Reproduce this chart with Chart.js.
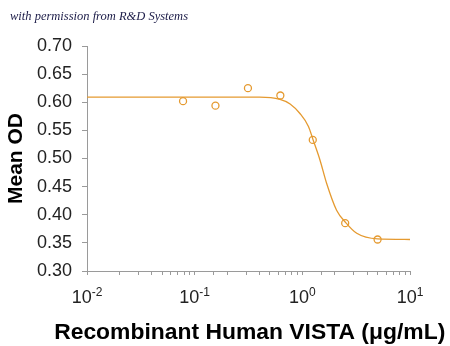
<!DOCTYPE html>
<html>
<head>
<meta charset="utf-8">
<script src="https://cdn.jsdelivr.net/npm/chart.js@4/dist/chart.umd.min.js"></script>
<style>
  body { margin: 0; background: #fff; }
</style>
</head>
<body>
<canvas id="chart" width="450" height="346"></canvas>
<script>
// measured points (2-fold dilution series)
var concentrations = [0.078, 0.156, 0.3125, 0.625, 1.25, 2.5, 5];
var meanOD = [0.602, 0.594, 0.625, 0.612, 0.533, 0.385, 0.356];

// fitted curve
var fitX = [0.01, 0.1, 0.4, 0.62, 0.77, 0.95, 1.14, 1.26, 1.46, 1.68, 2.08, 2.53, 3.2, 5.0, 10];
var fitY = [0.609, 0.609, 0.609, 0.605, 0.597, 0.580, 0.557, 0.533, 0.497, 0.456, 0.408, 0.386, 0.367, 0.357, 0.356];

// x tick labels: value, base, exponent
var xTickValues = [0.01, 0.1, 1, 10];
var xTickExp = ['-2', '-1', '0', '1'];
var xTitle = 'Recombinant Human VISTA (μg/mL)';

var orange = '#E59A30';
var axisGrey = '#9a9a9a';

var pts = [];
for (var i = 0; i < concentrations.length; i++) {
  pts.push({ x: concentrations[i], y: meanOD[i] });
}
var fit = [];
for (var j = 0; j < fitX.length; j++) {
  fit.push({ x: fitX[j], y: fitY[j] });
}

var extras = {
  id: 'extras',
  afterDraw: function (chart) {
    var c = chart.ctx;
    var xs = chart.scales.x;
    c.save();
    // caption
    c.font = 'italic 12.5px "Liberation Serif"';
    c.fillStyle = '#1c1c48';
    c.textBaseline = 'alphabetic';
    c.textAlign = 'left';
    c.fillText('with permission from R&D Systems', 10, 20);

    // power-of-ten tick labels with superscripts
    c.fillStyle = '#222';
    for (var k = 0; k < xTickValues.length; k++) {
      var px = xs.getPixelForValue(xTickValues[k]);
      c.font = '18px "Liberation Sans"';
      var wb = c.measureText('10').width;
      c.font = '12px "Liberation Sans"';
      var we = c.measureText(xTickExp[k]).width;
      var x0 = px - (wb + we) / 2;
      c.font = '18px "Liberation Sans"';
      c.fillText('10', x0, 302.5);
      c.font = '12px "Liberation Sans"';
      c.fillText(xTickExp[k], x0 + wb, 296);
    }

    // x axis title
    c.font = 'bold 22px "Liberation Sans"';
    c.fillStyle = '#000';
    c.textAlign = 'center';
    c.translate(249.7, 339);
    c.scale(1.04, 1);
    c.fillText(xTitle, 0, 0);
    c.restore();
  }
};

var config = {
  type: 'scatter',
  data: {
    datasets: [{
      data: fit,
      showLine: true,
      borderColor: orange,
      borderWidth: 1.3,
      pointRadius: 0,
      cubicInterpolationMode: 'monotone',
      fill: false
    }, {
      data: pts,
      showLine: false,
      pointStyle: 'circle',
      pointRadius: 3.5,
      borderWidth: 1.3,
      borderColor: orange,
      backgroundColor: 'rgba(255,255,255,0)'
    }]
  },
  options: {
    responsive: false,
    animation: false,
    layout: { padding: { left: 0, right: 40, top: 46, bottom: 0 } },
    plugins: { legend: { display: false }, tooltip: { enabled: false } },
    scales: {
      x: {
        type: 'logarithmic',
        min: 0.01,
        max: 10,
        afterFit: function (s) { s.height = 75; },
        border: { color: axisGrey, width: 1 },
        grid: { drawOnChartArea: false, tickColor: axisGrey, tickLength: 4 },
        ticks: {
          autoSkip: false,
          maxRotation: 0,
          callback: function () { return ''; }
        }
      },
      y: {
        min: 0.3,
        max: 0.7,
        afterFit: function (s) { s.width = 87; },
        border: { color: axisGrey, width: 1 },
        grid: { drawOnChartArea: false, tickColor: axisGrey, tickLength: 5 },
        ticks: {
          stepSize: 0.05,
          padding: 10,
          color: '#222',
          font: { family: 'Liberation Sans', size: 18 },
          callback: function (v) { return v.toFixed(2); }
        },
        title: {
          display: true,
          text: 'Mean OD',
          color: '#000',
          font: { family: 'Liberation Sans', size: 21, weight: 'bold', lineHeight: 1 },
          padding: { top: 6, bottom: 0 }
        }
      }
    }
  },
  plugins: [extras]
};

var ctx = document.getElementById('chart');
var myChart = new Chart(ctx, config);
</script>
</body>
</html>
